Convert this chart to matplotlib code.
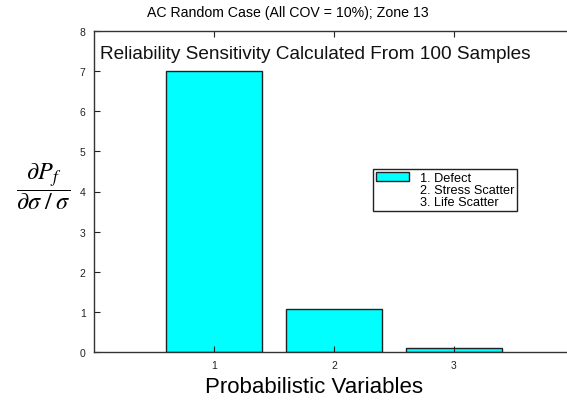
import matplotlib

matplotlib.use("Agg")
import matplotlib.pyplot as plt
from matplotlib.patches import Patch

plt.rcParams["font.family"] = ["Liberation Sans", "DejaVu Sans"]
plt.rcParams["mathtext.fontset"] = "stix"

variables = [1, 2, 3]
sensitivity = [7.0, 1.07, 0.1]
legend_labels = ["1. Defect", "2. Stress Scatter", "3. Life Scatter"]
y_ticks = [0, 1, 2, 3, 4, 5, 6, 7, 8]

W, H = 567, 402
fig = plt.figure(figsize=(W / 100, H / 100), dpi=100)
ax = fig.add_axes([94 / W, 49 / H, 480 / W, 321 / H])

bars = ax.bar(variables, sensitivity, width=0.8, color="#00ffff",
              edgecolor="#222222", linewidth=1.0)

ax.set_xlim(0, 4)
ax.set_ylim(0, 8)
ax.set_xticks(variables)
ax.set_yticks(y_ticks)
ax.tick_params(direction="in", length=4, labelsize=7.5, top=True,
               colors="#222222", pad=6)
ax.spines["right"].set_visible(False)
for side in ("left", "bottom", "top"):
    ax.spines[side].set_color("#333333")
    ax.spines[side].set_linewidth(1.0)

ax.text(0.05, 7.45, "Reliability Sensitivity Calculated From 100 Samples",
        fontsize=13.7, va="center", ha="left", color="#111111")

fig.text(288 / W, 1 - 13 / H, "AC Random Case (All COV = 10%); Zone 13",
         fontsize=10.2, ha="center", va="center")
fig.text(314 / W, 1 - 388 / H, "Probabilistic Variables",
         fontsize=16, ha="center", va="center")
fig.text(43 / W, 1 - 187 / H,
         r"$\dfrac{\partial P_f}{\partial\sigma\;/\;\sigma}$",
         fontsize=17.5, ha="center", va="center")

blank = Patch(facecolor="none", edgecolor="none")
leg = ax.legend([bars[0], blank, blank], legend_labels,
                loc="upper left", bbox_to_anchor=(373 / W, 1 - 170 / H),
                bbox_transform=fig.transFigure, borderaxespad=0,
                fontsize=9.2, fancybox=False, framealpha=1,
                handlelength=2.6, handleheight=0.7, labelspacing=0.0,
                borderpad=0.25, handletextpad=0.8)
leg.get_frame().set_edgecolor("#222222")
leg.get_frame().set_linewidth(1.0)

fig.savefig("out.png", dpi=100)
